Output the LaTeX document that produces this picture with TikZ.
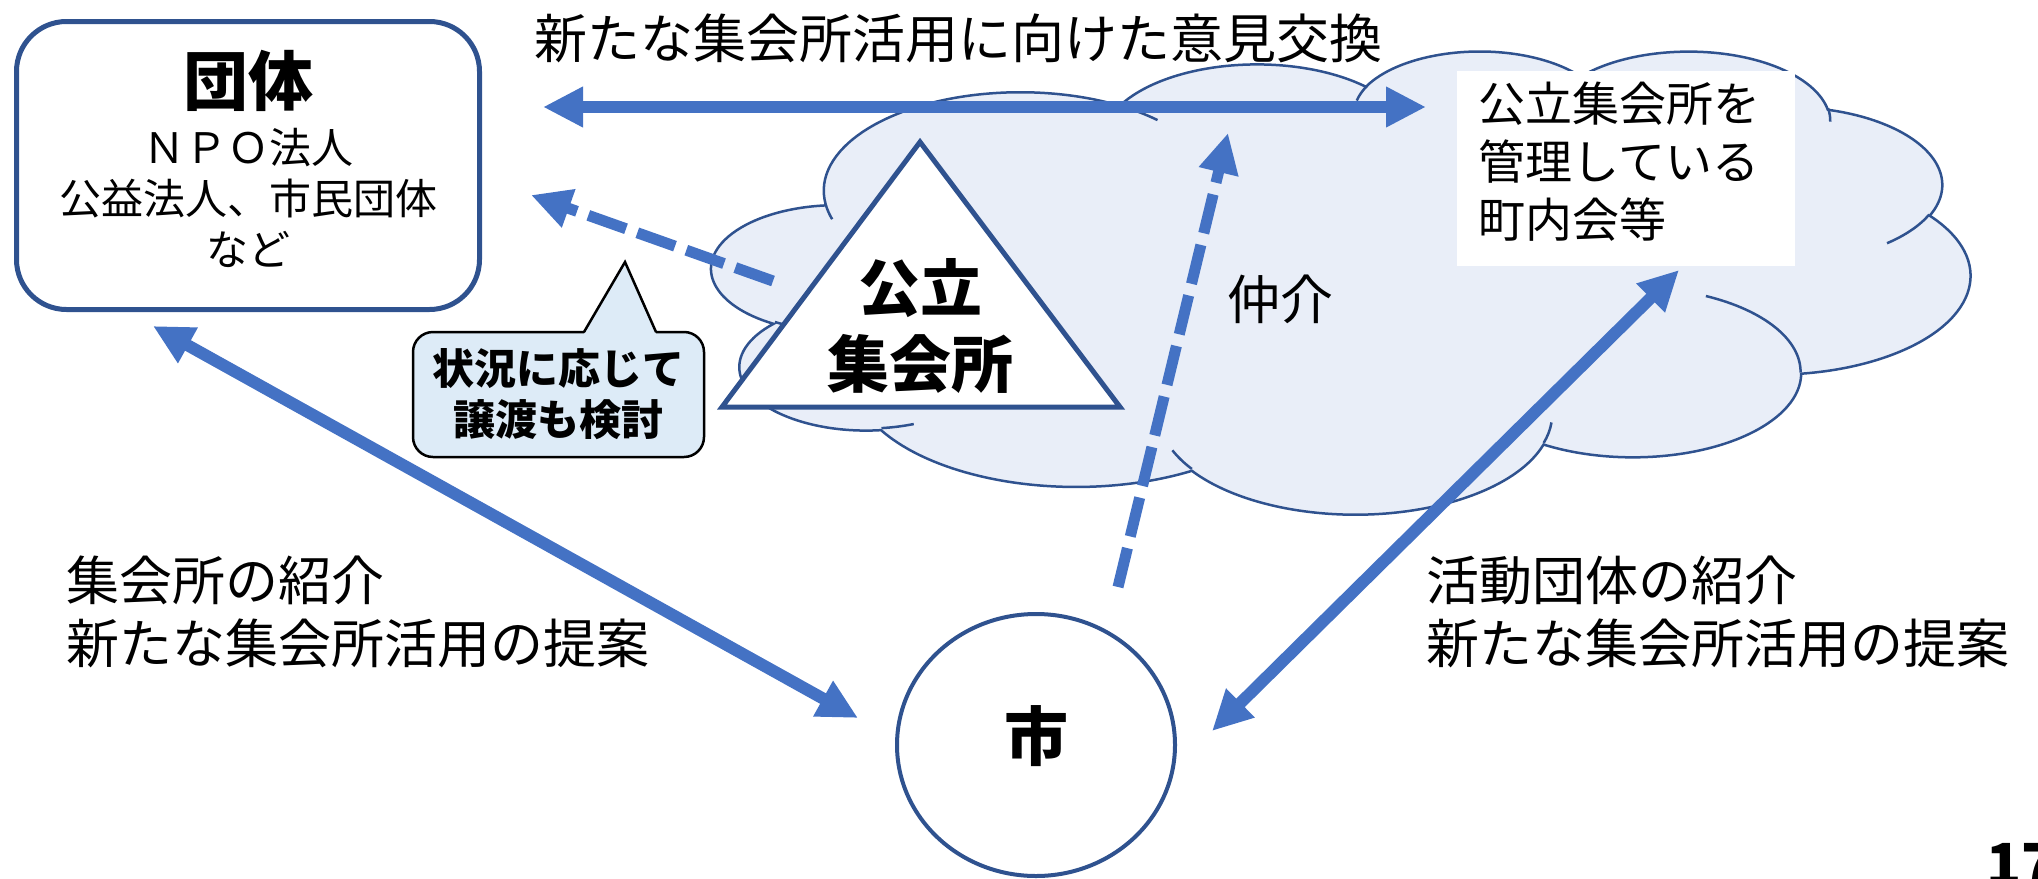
\documentclass[tikz,border=0pt]{standalone}
\usepackage{fontspec}
\setmainfont{Noto Sans CJK JP}
\usetikzlibrary{arrows.meta,shapes.geometric}
\definecolor{linkblue}{HTML}{4472C4}
\definecolor{rimblue}{HTML}{2F528F}
\definecolor{cloudfill}{HTML}{E9EEF8}
\definecolor{notefill}{HTML}{DDEBF7}
\newcommand{\fsz}[2]{\fontsize{#1pt}{#2pt}\selectfont}
\tikzset{
    >={Triangle[length=20pt,width=19pt]},
    plan/.style={
        x=0.5pt,y=-0.5pt,
        declare function={vpar(\xr,\yr,\va)=atan2(\xr*sin(\va),\yr*cos(\va));},
        org/.style={draw=rimblue,line width=2.5pt,rounded corners=25pt,minimum width=231.5pt,minimum height=144pt},
        city/.style={draw=rimblue,line width=2pt,ellipse,minimum width=139pt,minimum height=131pt,text depth=12pt,font=\fsz{32}{38}\bfseries},
        hall/.style={draw=rimblue,line width=2.5pt,fill=white,line join=miter},
        cloudy/.style={draw=rimblue,line width=1.25pt,fill=cloudfill},
        puff/.style={draw=rimblue,line width=1.25pt},
        memo/.style={fill=white,minimum width=169pt,minimum height=97.5pt},
        note/.style={draw=black,line width=1.25pt,fill=notefill,rounded corners=10pt,minimum width=145.5pt,minimum height=62.5pt,align=center,font=\fsz{21}{25.5}\bfseries},
        lbl/.style={inner sep=0pt,align=left,font=\fsz{26.5}{31.5}},
        lblsmall/.style={inner sep=0pt,align=center,font=\fsz{21}{25.5}},
        lblmid/.style={inner sep=0pt,align=left,font=\fsz{23.5}{29}},
        twoway/.style={linkblue,line width=6pt,<->},
        hint/.style={linkblue,line width=5.5pt,->,dash pattern=on 20pt off 6pt}
    }
}

\begin{document}
\begin{tikzpicture}[plan]
    \useasboundingbox (0,0) rectangle (2038,878);

    % cloud round the hall
    \begin{scope}[shift={(712,50)},x=1.456019pt,y=-0.535880pt]
        \draw[cloudy] (39,143.7)
            \foreach \rx/\ry/\st/\sw [evaluate=\st as \angA using {vpar(\rx,\ry,\st)},
                evaluate=\sw as \angB using {\angA+mod(vpar(\rx,\ry,\st+\sw)-\angA+720,360)}] in
               {67.53/91.90/-190.4875/123.7805, 53.33/72.67/-144.1024/89.9452,
                43.65/59.45/-145.8079/99.7230, 48.57/65.95/-130.9861/117.2417,
                53.33/72.73/-78.7089/109.0269, 67.75/92.20/-46.2673/130.2690,
                57.85/78.67/0.6250/114.0333, 67.52/92.15/22.4516/115.1726,
                77.20/105.43/66.2426/75.7110, 43.60/59.18/-274.9421/146.7356,
                43.45/59.45/-246.8285/152.5189}
            { arc[x radius=\rx,y radius=\ry,start angle=\angA,end angle=\angB] } -- cycle;
        \foreach \px/\py/\rx/\ry/\st/\sw [evaluate=\st as \angA using {vpar(\rx,\ry,\st)},
                evaluate=\sw as \angB using {\angA+mod(vpar(\rx,\ry,\st+\sw)-\angA+720,360)}] in
               {46.93/261.77/43.45/59.45/86.7420/26.4295, 69.28/348.99/43.60/59.18/73.6105/11.4475,
                164.78/390.90/67.52/92.15/137.6242/14.0811, 288.27/347.51/67.52/92.15/6.4533/15.9984,
                341.29/229.54/57.85/78.67/-70.2924/70.9174, 417.98/153.54/53.33/72.73/30.3180/27.7515,
                383.24/54.26/48.57/65.95/-13.7443/14.8589, 290.78/39.52/48.57/65.95/-149.1815/18.1954,
                221.41/47.20/43.65/59.45/-163.4943/17.6864, 140.00/51.92/67.53/91.90/-66.7070/12.3194,
                41.27/157.89/67.53/91.90/157.6544/11.8582}
            \draw[puff] (\px,\py) arc[x radius=\rx,y radius=\ry,start angle=\angA,end angle=\angB];
    \end{scope}

    % boxes
    \node[org] (org) at (248,165.5) {};
    \node[lbl,font=\fsz{32.5}{39}\bfseries] (orgT) at (248,81) {団体};
    \node[lblsmall] (orgD) at (248,198) {ＮＰＯ法人\\公益法人、市民団体\\など};

    \draw[hall] (920,142) coordinate (apex) -- (722,407) coordinate (baseL) -- (1120,407) coordinate (baseR) -- cycle;
    \node[lbl,align=center,font=\fsz{31}{38}\bfseries] (hallT) at (920,326) {公立\\集会所};

    \node[memo] (memo) at (1626,168.5) {};
    \node[lblmid,anchor=west] (memoT) at (1478,161.5) {公立集会所を\\管理している\\町内会等};

    \node[city] (city) at (1036,745) {市};

    \node[note] (joto) at (558.5,394.5) {状況に応じて\\譲渡も検討};
    \coordinate (jotoTip) at (625,262);
    \fill[notefill] (584,334) -- (jotoTip) -- (656,334) -- cycle;
    \draw[line width=1.25pt,line join=miter] (584,332) -- (jotoTip) -- (656,332);

    % labels
    \node[lbl] (talk) at (958,38) {新たな集会所活用に向けた意見交換};
    \node[lbl] (mediate) at (1280,299) {仲介};
    \node[lbl,anchor=west] (toOrg) at (66,611.5) {集会所の紹介\\新たな集会所活用の提案};
    \node[lbl,anchor=west] (toHall) at (1426,611.5) {活動団体の紹介\\新たな集会所活用の提案};
    \node[lbl,anchor=base west,font=\fsz{29}{35}\bfseries] (page) at (1986,885) {17};

    % arrows
    \coordinate (talkL) at (543,107);
    \coordinate (talkR) at (1426,107);
    \coordinate (orgLow) at (153,326);
    \coordinate (cityL) at (858,718);
    \coordinate (cityR) at (1212,731);
    \coordinate (memoLow) at (1679,270);
    \coordinate (hallW) at (773,281);
    \coordinate (orgR) at (531,195);
    \coordinate (cityUp) at (1118,587);
    \coordinate (memoUp) at (1228,133);

    \draw[twoway] (talkL) -- (talkR);
    \draw[twoway] (orgLow) -- (cityL);
    \draw[twoway] (cityR) -- (memoLow);
    \draw[hint] (hallW) -- (orgR);
    \draw[hint] (cityUp) -- (memoUp);
\end{tikzpicture}
\end{document}
